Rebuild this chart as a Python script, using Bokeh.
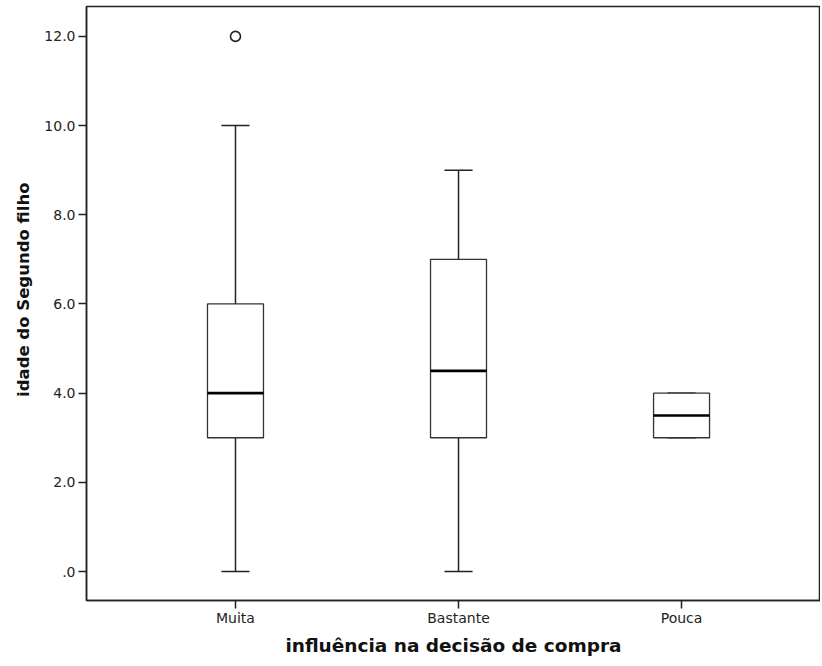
from bokeh.plotting import figure
from bokeh.models import FixedTicker, Range1d, Title
from bokeh.embed import file_html
from bokeh.resources import INLINE

categories = ["Muita", "Bastante", "Pouca"]
lower = [0.0, 0.0, 3.0]
q1 = [3.0, 3.0, 3.0]
median = [4.0, 4.5, 3.5]
q3 = [6.0, 7.0, 4.0]
upper = [10.0, 9.0, 4.0]
outlier_cat = ["Muita"]
outlier_val = [12.0]
y_ticks = [0, 2, 4, 6, 8, 10, 12]
y_tick_labels = [".0", "2.0", "4.0", "6.0", "8.0", "10.0", "12.0"]

pos = [i + 1 for i in range(len(categories))]
box_w = 0.251
cap_w = 0.126

p = figure(width=820, height=662, output_backend="svg", toolbar_location=None,
           x_range=Range1d(0.332, 3.623), y_range=Range1d(-0.65, 12.67),
           min_border_left=86, min_border_right=0, min_border_top=6, min_border_bottom=62)
p.background_fill_color = "white"
p.border_fill_color = "white"
p.outline_line_color = "#222222"
p.outline_line_width = 1.5
p.grid.visible = False

# whiskers
p.segment(x0=pos, y0=q3, x1=pos, y1=upper, line_color="#222222", line_width=1.5)
p.segment(x0=pos, y0=q1, x1=pos, y1=lower, line_color="#222222", line_width=1.5)
p.segment(x0=[x - cap_w / 2 for x in pos], y0=upper, x1=[x + cap_w / 2 for x in pos], y1=upper,
          line_color="#222222", line_width=1.5)
p.segment(x0=[x - cap_w / 2 for x in pos], y0=lower, x1=[x + cap_w / 2 for x in pos], y1=lower,
          line_color="#222222", line_width=1.5)
# boxes
p.vbar(x=pos, width=box_w, bottom=q1, top=q3, fill_color="white", line_color="#333333", line_width=1.3)
# medians
p.segment(x0=[x - box_w / 2 for x in pos], y0=median, x1=[x + box_w / 2 for x in pos], y1=median,
          line_color="black", line_width=2.6)
# outliers
ox = [pos[categories.index(c)] for c in outlier_cat]
p.scatter(x=ox, y=outlier_val, marker="circle", size=10, fill_color="white",
          line_color="#222222", line_width=1.6)

p.xaxis.ticker = FixedTicker(ticks=pos)
p.xaxis.major_label_overrides = {x: c for x, c in zip(pos, categories)}
p.yaxis.ticker = FixedTicker(ticks=y_ticks)
p.yaxis.major_label_overrides = {t: l for t, l in zip(y_ticks, y_tick_labels)}

for ax in (p.xaxis, p.yaxis):
    ax.axis_line_color = "#222222"
    ax.axis_line_width = 1.5
    ax.major_tick_line_color = "#222222"
    ax.major_tick_line_width = 1.5
    ax.major_tick_out = 8
    ax.major_tick_in = 0
    ax.minor_tick_line_color = None
    ax.major_label_text_font = "DejaVu Sans"
    ax.major_label_text_font_size = "14px"
    ax.major_label_text_color = "#222222"
    ax.axis_label_text_font = "DejaVu Sans"
    ax.axis_label_text_font_style = "bold"
    ax.axis_label_text_color = "#111111"

p.xaxis.axis_label_text_font_size = "18.5px"
p.yaxis.major_label_standoff = 3
p.xaxis.major_label_standoff = 1
p.xaxis.axis_label = "influência na decisão de compra"
p.xaxis.axis_label_standoff = 6

ytitle = Title(text="idade do Segundo filho", align="right", offset=176,
               text_font="DejaVu Sans", text_font_size="16.5px", text_font_style="bold",
               text_color="#111111", standoff=17)
p.add_layout(ytitle, "left")

open("out.html", "w").write(file_html(p, INLINE))
